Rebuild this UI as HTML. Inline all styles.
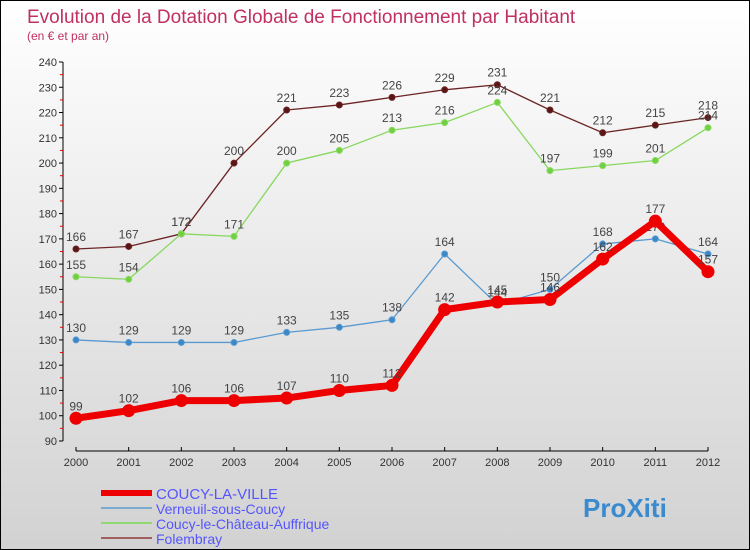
<!DOCTYPE html>
<html><head><meta charset="utf-8"><style>
body{margin:0}
#c{width:750px;height:550px;position:relative;box-sizing:border-box;border:1px solid #000;background:linear-gradient(#fff,#d2d2d2);font-family:"Liberation Sans",sans-serif;overflow:hidden}
</style></head><body>
<div id="c">
<svg id="s" width="750" height="550" style="position:absolute;left:0;top:0">
<text x="26" y="22" font-size="19" fill="#c03060">Evolution de la Dotation Globale de Fonctionnement par Habitant</text>
<text x="26" y="39" font-size="12" fill="#c03060">(en € et par an)</text>
<g id="g"></g>
</svg>
</div>
<script>
const years=["2000","2001","2002","2003","2004","2005","2006","2007","2008","2009","2010","2011","2012"];
const yTicks=[90,100,110,120,130,140,150,160,170,180,190,200,210,220,230,240];
const coucy=[99,102,106,106,107,110,112,142,145,146,162,177,157];
const verneuil=[130,129,129,129,133,135,138,164,144,150,168,170,164];
const chateau=[155,154,172,171,200,205,213,216,224,197,199,201,214];
const folembray=[166,167,172,200,221,223,226,229,231,221,212,215,218];
const NS="http://www.w3.org/2000/svg";
const g=document.getElementById('g');
const X=i=>75+i*(707-75)/12;
const Y=v=>440-(v-90)*(440-61)/150;
function mk(t,a,txt){const e=document.createElementNS(NS,t);for(const k in a)e.setAttribute(k,a[k]);if(txt!==undefined)e.textContent=txt;g.appendChild(e);return e;}
// axes
let ax=mk('line',{x1:62,y1:61,x2:62,y2:440,stroke:'#000'});


ax=mk('line',{x1:75,y1:450,x2:707,y2:450,stroke:'#000'});


yTicks.forEach((v,i)=>{
 mk('line',{x1:58,y1:Y(v),x2:62,y2:Y(v),stroke:'#000'});
 if(i<yTicks.length-1)mk('line',{x1:59,y1:Y(v+5),x2:62,y2:Y(v+5),stroke:'#e00'});
 const t=mk('text',{x:56,y:Y(v)+4,'font-size':11,'text-anchor':'end',fill:'#333'},v);
 
 
});
years.forEach((y,i)=>{
 mk('line',{x1:X(i),y1:446,x2:X(i),y2:450,stroke:'#000'});
 const t=mk('text',{x:X(i),y:465,'font-size':11,'text-anchor':'middle',fill:'#333'},y);
 
 
});
function series(d,color,w,r,fill,name){
 const p=mk('polyline',{points:d.map((v,i)=>X(i)+','+Y(v)).join(' '),fill:'none',stroke:color,'stroke-width':w,'stroke-linejoin':'round'});
 
 
 d.forEach((v,i)=>{
  const c=mk('circle',{cx:X(i),cy:Y(v),r:r,fill:fill,stroke:color,'stroke-width':1});
  
  
  const t=mk('text',{x:X(i),y:Y(v)-8,'font-size':12,'text-anchor':'middle',fill:'#444'},v);
  
  
 });
}
series(folembray,'#6b2525',1.3,3,'#5a1515','folembray');
series(chateau,'#88d860',1.3,3,'#70d040','coucy-le-chateau');
series(verneuil,'#5a9ad0',1.3,3,'#3a88c8','verneuil');
series(coucy,'#ee0000',7,6,'#ee0000','coucy-la-ville');
const leg=[["COUCY-LA-VILLE","#ee0000",6],["Verneuil-sous-Coucy","#7aaad0",2],["Coucy-le-Château-Auffrique","#90d870",2],["Folembray","#a06060",2]];
leg.forEach((l,i)=>{
 const y=492+i*15;
 const ln=mk('line',{x1:100,y1:y,x2:151,y2:y,stroke:l[1],'stroke-width':l[2]});
 
 
 const t=mk('text',{x:155,y:y+6,'font-size':i==0?15:14,fill:'#5555ff'},l[0]);
 
 
});
const b=mk('text',{x:582,y:516,'font-size':26,'font-weight':'bold',fill:'#3a8ad0'},'ProXiti');


</script>
</body></html>
